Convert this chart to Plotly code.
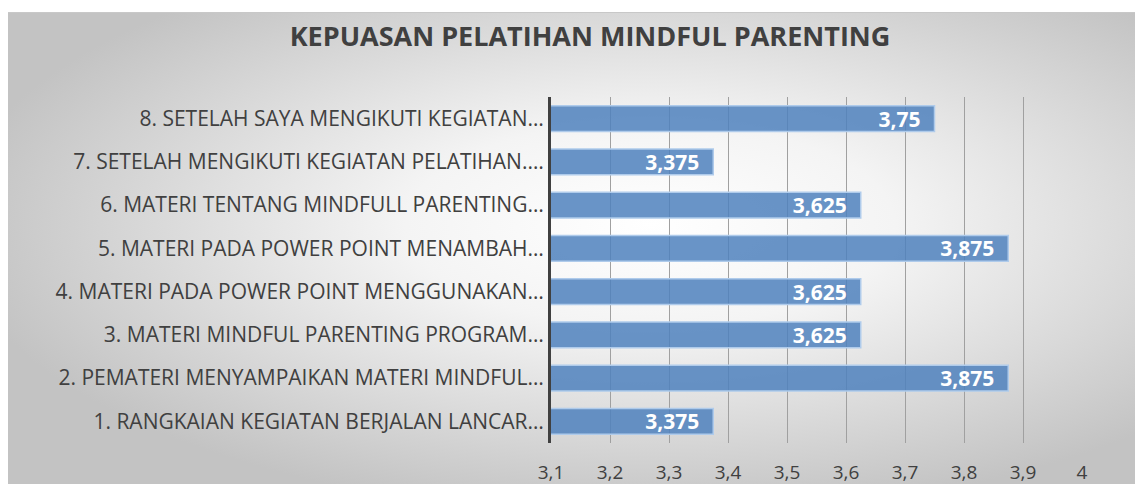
import base64
import plotly.graph_objects as go

categories = [
    "1. RANGKAIAN KEGIATAN BERJALAN LANCAR…",
    "2. PEMATERI MENYAMPAIKAN MATERI MINDFUL…",
    "3. MATERI MINDFUL PARENTING PROGRAM…",
    "4. MATERI PADA POWER POINT MENGGUNAKAN…",
    "5. MATERI PADA POWER POINT MENAMBAH…",
    "6. MATERI TENTANG MINDFULL PARENTING…",
    "7. SETELAH MENGIKUTI KEGIATAN PELATIHAN.…",
    "8. SETELAH SAYA MENGIKUTI KEGIATAN…",
]
values = [3.375, 3.875, 3.625, 3.625, 3.875, 3.625, 3.375, 3.75]
x_ticks = [3.1, 3.2, 3.3, 3.4, 3.5, 3.6, 3.7, 3.8, 3.9, 4.0]
title = "KEPUASAN PELATIHAN MINDFUL PARENTING"

labels = [("%g" % v).replace(".", ",") + "\u00a0\u00a0" for v in values]

svg = (
    '<svg xmlns="http://www.w3.org/2000/svg" width="1127" height="472" preserveAspectRatio="none" viewBox="0 0 1127 472">'
    '<defs><radialGradient id="g" cx="0.57" cy="0.45" r="0.62" fx="0.57" fy="0.45">'
    '<stop offset="0" stop-color="#ffffff"/>'
    '<stop offset="0.35" stop-color="#f4f4f4"/>'
    '<stop offset="1" stop-color="#c3c3c3"/>'
    '</radialGradient></defs>'
    '<rect width="1127" height="472" fill="url(#g)"/></svg>'
)
bg_src = "data:image/svg+xml;base64," + base64.b64encode(svg.encode()).decode()

W, H = 1135, 484
L, R, T, B = 551, 53, 97, 41
PW, PH = W - L - R, H - T - B

fig = go.Figure(
    go.Bar(
        y=categories,
        x=values,
        orientation="h",
        marker=dict(color="rgba(79,129,189,0.85)", line=dict(color="rgba(175,203,235,1)", width=1.5)),
        text=labels,
        textposition="inside",
        insidetextanchor="end",
        constraintext="none",
        textfont=dict(family="Open Sans", size=21, color="white", weight="bold"),
        width=0.6,
        hoverinfo="skip",
    )
)

fig.update_layout(
    width=W,
    height=H,
    margin=dict(l=L, r=R, t=T, b=B, autoexpand=False),
    paper_bgcolor="white",
    plot_bgcolor="rgba(0,0,0,0)",
    separators=",.",
    showlegend=False,
    title=dict(
        text="<b>" + title + "</b>",
        x=590 / W,
        xanchor="center",
        y=1 - 37 / H,
        yanchor="middle",
        font=dict(family="Open Sans", size=27, color="#404040"),
    ),
    images=[
        dict(
            source=bg_src,
            xref="paper",
            yref="paper",
            x=(8 - L) / PW,
            y=1 + (T - 12) / PH,
            sizex=(W - 8) / PW,
            sizey=(H - 12) / PH,
            xanchor="left",
            yanchor="top",
            sizing="stretch",
            layer="below",
        )
    ],
    shapes=[
        dict(
            type="line",
            xref="paper",
            yref="paper",
            x0=(8 - L) / PW,
            x1=(W - L) / PW,
            y0=1 + (T - 12.5) / PH,
            y1=1 + (T - 12.5) / PH,
            line=dict(color="#c8c8c8", width=1),
        )
    ],
)

fig.update_xaxes(
    range=[3.1, 4.0],
    tickvals=x_ticks,
    showgrid=True,
    gridcolor="#a0a0a0",
    gridwidth=1,
    zeroline=False,
    showline=False,
    ticks="",
    automargin=False,
    ticklabelstandoff=16,
    tickfont=dict(family="Open Sans", size=19, color="#404040"),
)
fig.update_yaxes(
    type="category",
    categoryorder="array",
    categoryarray=categories,
    showgrid=False,
    showline=True,
    linecolor="#404040",
    linewidth=3,
    ticks="",
    automargin=False,
    ticklabelstandoff=0,
    tickfont=dict(family="Open Sans", size=21, color="#404040"),
)

fig.write_html("out.html")
